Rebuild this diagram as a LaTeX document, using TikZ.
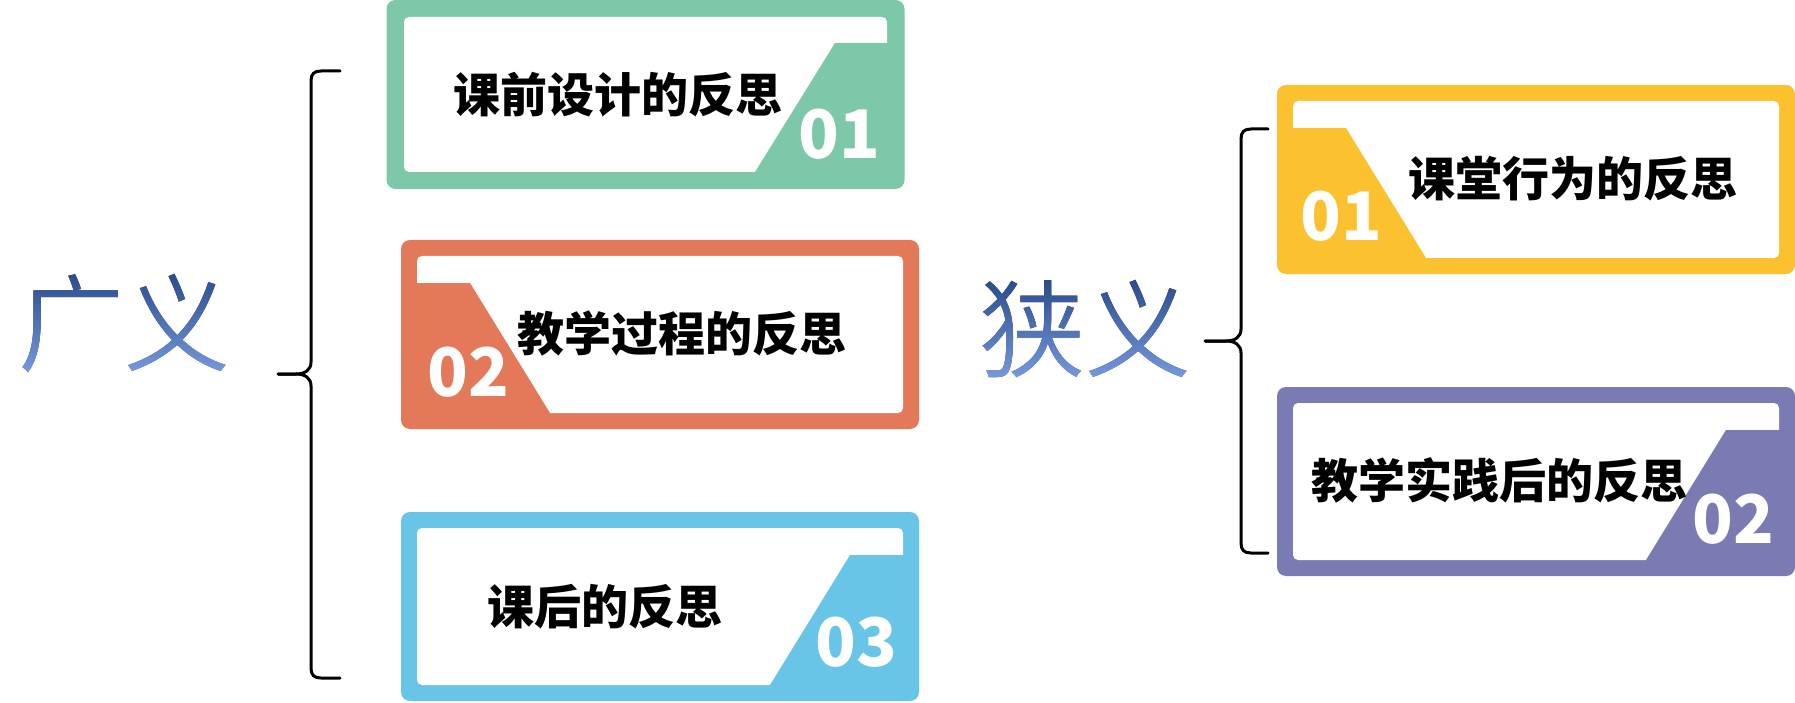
\documentclass[tikz,border=0pt]{standalone}
\usepackage{fontspec}
\setmainfont{Noto Sans CJK SC}
\newfontfamily\thincjk{Noto Sans CJK SC DemiLight}
\usetikzlibrary{positioning}

\definecolor{cardgreen}{HTML}{7CC8A8}
\definecolor{cardorange}{HTML}{E4795A}
\definecolor{cardblue}{HTML}{69C5E7}
\definecolor{cardyellow}{HTML}{FCC12E}
\definecolor{cardpurple}{HTML}{797BB2}
\definecolor{termtop}{HTML}{284C8C}
\definecolor{termbottom}{HTML}{7599DC}

\begin{document}
\begin{tikzpicture}[
        x=1pt, y=-1pt,
        card/.style={rounded corners=9pt, minimum width=518pt, minimum height=189pt, inner sep=0pt},
        face/.style={fill=white, rounded corners=5pt},
        cardtext/.style={font=\bfseries\fontsize{47}{50}\selectfont, inner sep=0pt},
        cardnum/.style={font=\bfseries\fontsize{67}{70}\selectfont, text=white, inner sep=0pt},
        term/.style={font=\thincjk\fontsize{106}{110}\selectfont, text=black, inner sep=0pt},
        termshade/.style={blend mode=lighten, top color=termtop, bottom color=termbottom},
        curly/.style={draw, line width=3pt, line cap=round}
    ]
    \fill[white] (0,0) rectangle (1795,703);
    \useasboundingbox (0,0) rectangle (1795,703);

    \node[term] (wide) at (124,323) {广义};
    \shade[termshade] (wide.north west) rectangle (wide.south east);
    \node[term] (narrow) at (1085,329) {狭义};
    \shade[termshade] (narrow.north west) rectangle (narrow.south east);

    \node[card, fill=cardgreen] (pre) at (645.5,94.5) {};
    \fill[face] (404,17) rectangle (887,172);
    \fill[cardgreen] (835,43) -- (889,43) -- (889,174) -- (753.8,174) -- cycle;
    \node[cardtext] (pretext) at (618,95) {课前设计的反思};
    \node[cardnum] (prenum) at (839,134) {01};

    \node[card, fill=cardorange] (during) at (660,334.5) {};
    \fill[face] (417,256) rectangle (903,413);
    \fill[cardorange] (470,283) -- (415,283) -- (415,415) -- (551.2,415) -- cycle;
    \node[cardtext] (duringtext) at (682,334) {教学过程的反思};
    \node[cardnum] (duringnum) at (468,372) {02};

    \node[card, fill=cardblue] (post) at (660,606.5) {};
    \fill[face] (417,528) rectangle (903,685);
    \fill[cardblue] (850,555) -- (905,555) -- (905,687) -- (768.8,687) -- cycle;
    \node[cardtext] (posttext) at (605,607) {课后的反思};
    \node[cardnum] (postnum) at (856,642) {03};

    \node[card, fill=cardyellow] (act) at (1536,179.5) {};
    \fill[face] (1293,101) rectangle (1779,258);
    \fill[cardyellow] (1346,128) -- (1291,128) -- (1291,260) -- (1427.2,260) -- cycle;
    \node[cardtext] (acttext) at (1573,179) {课堂行为的反思};
    \node[cardnum] (actnum) at (1341,216) {01};

    \node[card, fill=cardpurple] (after) at (1536,481.5) {};
    \fill[face] (1293,403) rectangle (1779,560);
    \fill[cardpurple] (1726,430) -- (1781,430) -- (1781,562) -- (1644.8,562) -- cycle;
    \node[cardtext] (aftertext) at (1499,480) {教学实践后的反思};
    \node[cardnum] (afternum) at (1733,519) {02};

    \coordinate (ltop) at (340,71);
    \coordinate (ltip) at (278,374);
    \coordinate (lbot) at (340,678);
    \draw[curly] (ltop) -- (321,71) .. controls (314,71) and (311,74) .. (311,81) -- (311,362)
        .. controls (311,370) and (305,374) .. (296,374) -- (ltip);
    \draw[curly] (ltip) -- (296,374) .. controls (305,374) and (311,378) .. (311,386) -- (311,668)
        .. controls (311,675) and (314,678) .. (321,678) -- (lbot);

    \coordinate (rtop) at (1268,129);
    \coordinate (rtip) at (1205,341);
    \coordinate (rbot) at (1268,553);
    \draw[curly] (rtop) -- (1251,129) .. controls (1244,129) and (1241,132) .. (1241,139) -- (1241,329)
        .. controls (1241,337) and (1235,341) .. (1226,341) -- (rtip);
    \draw[curly] (rtip) -- (1226,341) .. controls (1235,341) and (1241,345) .. (1241,353) -- (1241,543)
        .. controls (1241,550) and (1244,553) .. (1251,553) -- (rbot);
\end{tikzpicture}
\end{document}
